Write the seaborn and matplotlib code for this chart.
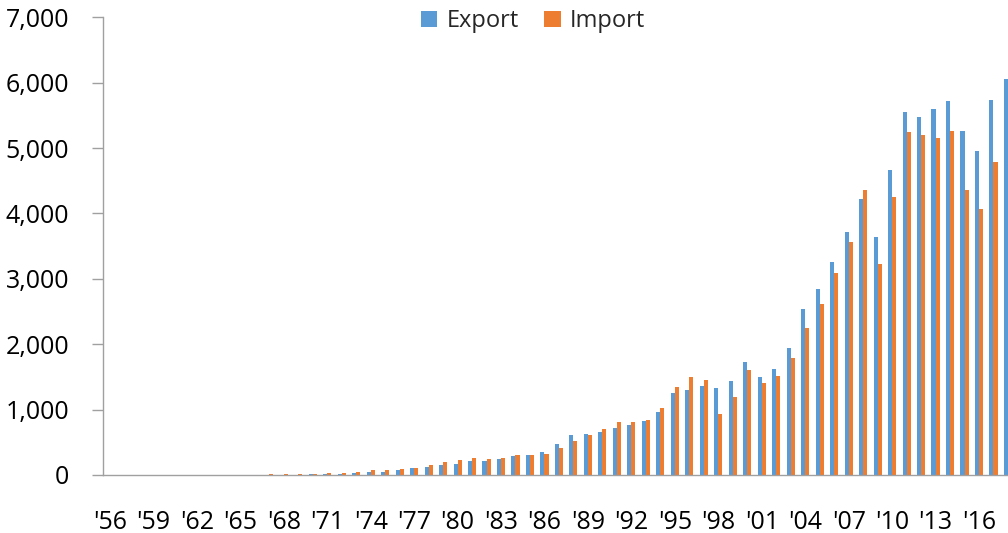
import numpy as np
import pandas as pd
import matplotlib
matplotlib.use("Agg")
import matplotlib.pyplot as plt
import seaborn as sns
from matplotlib.ticker import FuncFormatter
from matplotlib.patches import Patch

years = list(range(1956, 2019))
export_vals = [0.3, 0.2, 0.2, 0.2, 0.3, 0.4, 0.5, 0.9, 1.2, 1.8, 2.5, 3.2, 4.6,
               6, 8, 11, 16, 32, 45, 51, 77, 100, 127, 151, 175,
               212, 219, 244, 292, 303, 347, 473, 607, 624, 650,
               719, 766, 822, 960, 1251, 1297, 1362, 1323, 1437, 1723,
               1504, 1625, 1938, 2538, 2844, 3255, 3715, 4220, 3635, 4664,
               5552, 5479, 5596, 5727, 5268, 4954, 5737, 6049]
import_vals = [3.9, 4.4, 3.8, 3.0, 3.4, 3.2, 4.2, 5.6, 4.0, 4.6, 7.2, 10, 15,
               18, 20, 24, 25, 42, 69, 73, 88, 108, 150, 203, 223,
               261, 243, 262, 306, 311, 316, 410, 518, 615, 698,
               815, 818, 838, 1023, 1351, 1503, 1446, 933, 1198, 1605,
               1411, 1521, 1788, 2245, 2612, 3094, 3568, 4353, 3231, 4252,
               5244, 5196, 5156, 5255, 4365, 4062, 4785, 5352]
series_names = ["Export", "Import"]
colors = ["#5B9BD5", "#ED7D31"]
tick_years = list(range(1956, 2017, 3))
tick_labels = ["'" + str(y)[2:] for y in tick_years]

df = pd.DataFrame({
    "year": [str(y) for y in years] * 2,
    "value": export_vals + import_vals,
    "type": [series_names[0]] * len(years) + [series_names[1]] * len(years),
})

sns.set_theme(style="white")
plt.rcParams["font.family"] = ["Open Sans", "DejaVu Sans"]

fig = plt.figure(figsize=(10.08, 5.33), dpi=100)
ax = fig.add_axes([102.7 / 1008, 1 - 475 / 533, 912.5 / 1008, (475 - 17.3) / 533])

sns.barplot(data=df, x="year", y="value", hue="type", order=[str(y) for y in years],
            hue_order=series_names, palette=colors, width=0.56,
            saturation=1, linewidth=0, edgecolor="none", ax=ax, legend=False)

ax.set_xlim(-0.5, 62.5)
ax.set_ylim(0, 7000)
ax.set_yticks(np.arange(0, 7001, 1000))
ax.yaxis.set_major_formatter(FuncFormatter(lambda v, p: f"{int(v):,}"))
ax.set_xlabel("")
ax.set_ylabel("")

pos = [years.index(y) for y in tick_years]
ax.set_xticks(pos)
ax.set_xticklabels(tick_labels)
ax.set_xticks(np.arange(-0.5, 63, 1), minor=True)
ax.tick_params(axis="x", which="major", length=0, pad=25, labelsize=18, colors="black")
ax.tick_params(axis="x", which="minor", length=9, width=1, color="#A0A0A0", direction="out")
ax.tick_params(axis="y", which="major", length=8, width=1, color="#A0A0A0", pad=16,
               labelsize=18, labelcolor="black", direction="out", left=True)

for s in ["top", "right"]:
    ax.spines[s].set_visible(False)
for s in ["left", "bottom"]:
    ax.spines[s].set_color("#A0A0A0")
    ax.spines[s].set_linewidth(1)

handles = [Patch(facecolor=c, edgecolor="none", linewidth=0) for c in colors]
fig.legend(handles, series_names, loc="center", bbox_to_anchor=(533 / 1008, 1 - 21 / 533),
           ncol=2, frameon=False, fontsize=17, handlelength=0.68, handleheight=0.68,
           handletextpad=0.4, columnspacing=1.1)

fig.savefig("out.png", dpi=100)
